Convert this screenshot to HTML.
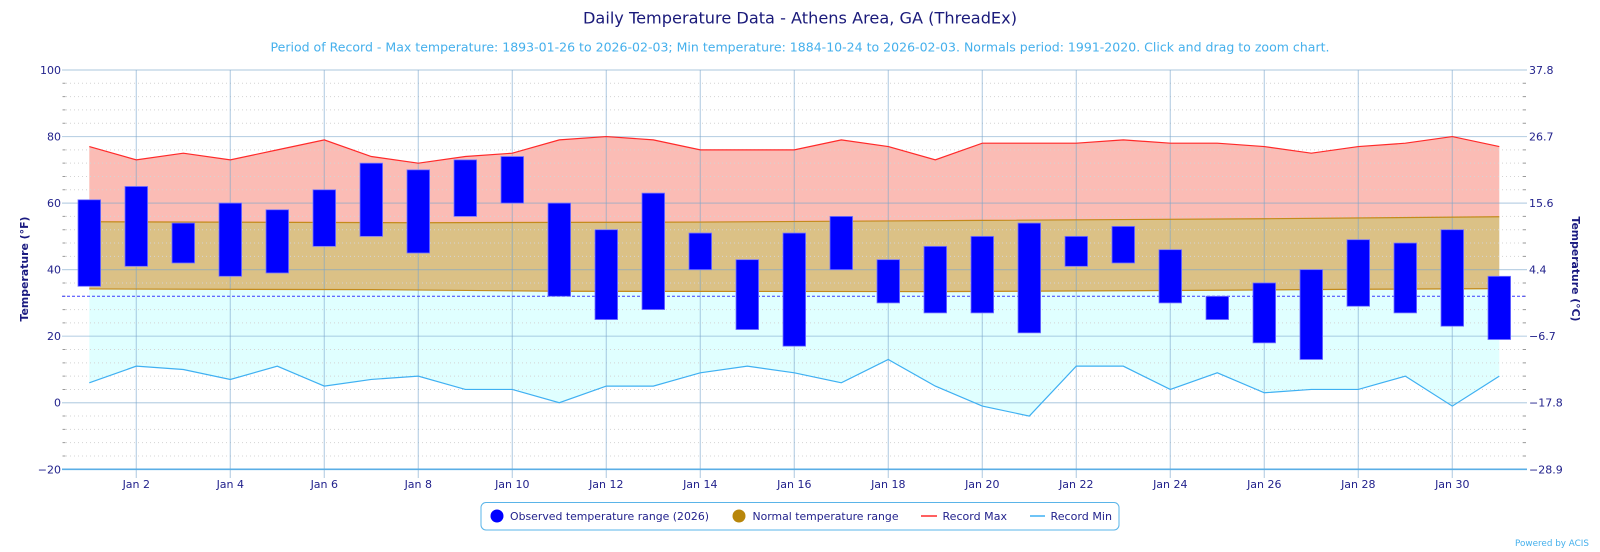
<!DOCTYPE html>
<html><head><meta charset="utf-8"><style>
html,body{margin:0;padding:0;background:#fff;width:1600px;height:552px;overflow:hidden}
svg{display:block}
text{font-family:"DejaVu Sans","Liberation Sans",sans-serif}
</style></head><body>
<svg width="1600" height="552" viewBox="0 0 1600 552" xmlns="http://www.w3.org/2000/svg">
<rect width="1600" height="552" fill="#fff"/>
<text x="800" y="23.3" text-anchor="middle" font-size="16" fill="#1a1a7a" textLength="434" lengthAdjust="spacingAndGlyphs">Daily Temperature Data - Athens Area, GA (ThreadEx)</text>
<text x="800" y="51.5" text-anchor="middle" font-size="12" fill="#45b0ec" textLength="1059" lengthAdjust="spacingAndGlyphs">Period of Record - Max temperature: 1893-01-26 to 2026-02-03; Min temperature: 1884-10-24 to 2026-02-03. Normals period: 1991-2020. Click and drag to zoom chart.</text>

<!-- fills -->
<polygon fill="#fbbcb5" points="89.3,146.54 136.3,159.85 183.3,153.19 230.3,159.85 277.3,149.86 324.3,139.88 371.3,156.52 418.3,163.17 465.3,156.52 512.3,153.19 559.3,139.88 606.3,136.55 653.3,139.88 700.3,149.86 747.3,149.86 794.3,149.86 841.3,139.88 888.3,146.54 935.3,159.85 982.3,143.21 1029.3,143.21 1076.3,143.21 1123.3,139.88 1170.3,143.21 1217.3,143.21 1264.3,146.54 1311.3,153.19 1358.3,146.54 1405.3,143.21 1452.3,136.55 1499.3,146.54 1499.3,216.75 1264.3,218.74 982.3,220.40 700.3,222.07 418.3,222.74 89.3,221.74"/>
<polygon fill="#dbc186" points="89.3,221.74 418.3,222.74 700.3,222.07 982.3,220.40 1264.3,218.74 1499.3,216.75 1499.3,288.62 1358.3,289.28 1217.3,290.28 935.3,291.61 559.3,291.28 371.3,289.62 89.3,288.95"/>
<polygon fill="#e0ffff" points="89.3,288.95 371.3,289.62 559.3,291.28 935.3,291.61 1217.3,290.28 1358.3,289.28 1499.3,288.62 1499.3,376.13 1452.3,406.08 1405.3,376.13 1358.3,389.44 1311.3,389.44 1264.3,392.77 1217.3,372.80 1170.3,389.44 1123.3,366.15 1076.3,366.15 1029.3,416.06 982.3,406.08 935.3,386.11 888.3,359.49 841.3,382.79 794.3,372.80 747.3,366.15 700.3,372.80 653.3,386.11 606.3,386.11 559.3,402.75 512.3,389.44 465.3,389.44 418.3,376.13 371.3,379.46 324.3,386.11 277.3,366.15 230.3,379.46 183.3,369.48 136.3,366.15 89.3,382.79"/>

<!-- minor dotted grid -->
<g stroke="#d4d4d4" stroke-width="1" stroke-dasharray="1,3">
<line x1="66" x2="1522.8" y1="83.31" y2="83.31"/><line x1="66" x2="1522.8" y1="96.62" y2="96.62"/><line x1="66" x2="1522.8" y1="109.93" y2="109.93"/><line x1="66" x2="1522.8" y1="123.24" y2="123.24"/>
<line x1="66" x2="1522.8" y1="149.86" y2="149.86"/><line x1="66" x2="1522.8" y1="163.17" y2="163.17"/><line x1="66" x2="1522.8" y1="176.48" y2="176.48"/><line x1="66" x2="1522.8" y1="189.79" y2="189.79"/>
<line x1="66" x2="1522.8" y1="216.41" y2="216.41"/><line x1="66" x2="1522.8" y1="229.72" y2="229.72"/><line x1="66" x2="1522.8" y1="243.03" y2="243.03"/><line x1="66" x2="1522.8" y1="256.34" y2="256.34"/>
<line x1="66" x2="1522.8" y1="282.96" y2="282.96"/><line x1="66" x2="1522.8" y1="309.58" y2="309.58"/><line x1="66" x2="1522.8" y1="322.89" y2="322.89"/>
<line x1="66" x2="1522.8" y1="349.51" y2="349.51"/><line x1="66" x2="1522.8" y1="362.82" y2="362.82"/><line x1="66" x2="1522.8" y1="376.13" y2="376.13"/><line x1="66" x2="1522.8" y1="389.44" y2="389.44"/>
<line x1="66" x2="1522.8" y1="416.06" y2="416.06"/><line x1="66" x2="1522.8" y1="429.37" y2="429.37"/><line x1="66" x2="1522.8" y1="442.68" y2="442.68"/><line x1="66" x2="1522.8" y1="455.99" y2="455.99"/>
</g>
<!-- minor ticks -->
<g stroke="#9a9a9a" stroke-width="1">
<path d="M62.5 83.31h3M62.5 96.62h3M62.5 109.93h3M62.5 123.24h3M62.5 149.86h3M62.5 163.17h3M62.5 176.48h3M62.5 189.79h3M62.5 216.41h3M62.5 229.72h3M62.5 243.03h3M62.5 256.34h3M62.5 282.96h3M62.5 296.27h3M62.5 309.58h3M62.5 322.89h3M62.5 349.51h3M62.5 362.82h3M62.5 376.13h3M62.5 389.44h3M62.5 416.06h3M62.5 429.37h3M62.5 442.68h3M62.5 455.99h3"/>
<path d="M1523 83.31h3M1523 96.62h3M1523 109.93h3M1523 123.24h3M1523 149.86h3M1523 163.17h3M1523 176.48h3M1523 189.79h3M1523 216.41h3M1523 229.72h3M1523 243.03h3M1523 256.34h3M1523 282.96h3M1523 296.27h3M1523 309.58h3M1523 322.89h3M1523 349.51h3M1523 362.82h3M1523 376.13h3M1523 389.44h3M1523 416.06h3M1523 429.37h3M1523 442.68h3M1523 455.99h3"/>
</g>

<!-- major grid -->
<g stroke="#7aa6cc" stroke-opacity="0.5" stroke-width="1.2">
<line x1="62" x2="1527" y1="70" y2="70"/>
<line x1="62" x2="1527" y1="136.55" y2="136.55"/>
<line x1="62" x2="1527" y1="203.1" y2="203.1"/>
<line x1="62" x2="1527" y1="269.65" y2="269.65"/>
<line x1="62" x2="1527" y1="336.2" y2="336.2"/>
<line x1="62" x2="1527" y1="402.75" y2="402.75"/>
<line x1="136.3" x2="136.3" y1="70" y2="478"/><line x1="230.3" x2="230.3" y1="70" y2="478"/><line x1="324.3" x2="324.3" y1="70" y2="478"/><line x1="418.3" x2="418.3" y1="70" y2="478"/><line x1="512.3" x2="512.3" y1="70" y2="478"/><line x1="606.3" x2="606.3" y1="70" y2="478"/><line x1="700.3" x2="700.3" y1="70" y2="478"/><line x1="794.3" x2="794.3" y1="70" y2="478"/><line x1="888.3" x2="888.3" y1="70" y2="478"/><line x1="982.3" x2="982.3" y1="70" y2="478"/><line x1="1076.3" x2="1076.3" y1="70" y2="478"/><line x1="1170.3" x2="1170.3" y1="70" y2="478"/><line x1="1264.3" x2="1264.3" y1="70" y2="478"/><line x1="1358.3" x2="1358.3" y1="70" y2="478"/><line x1="1452.3" x2="1452.3" y1="70" y2="478"/>
</g>
<line x1="62" x2="1527" y1="469.3" y2="469.3" stroke="#5aaee6" stroke-width="1.6"/>

<!-- normal borders -->
<polyline fill="none" stroke="#c48a1c" stroke-width="1.2" points="89.3,221.74 418.3,222.74 700.3,222.07 982.3,220.40 1264.3,218.74 1499.3,216.75"/>
<polyline fill="none" stroke="#c48a1c" stroke-width="1.2" points="89.3,288.95 371.3,289.62 559.3,291.28 935.3,291.61 1217.3,290.28 1358.3,289.28 1499.3,288.62"/>

<!-- freezing line -->
<line x1="62" x2="1527" y1="296.27" y2="296.27" stroke="#3a3aff" stroke-width="1" stroke-dasharray="3,2"/>

<!-- record lines -->
<polyline fill="none" stroke="#ff2a2a" stroke-width="1.2" points="89.3,146.54 136.3,159.85 183.3,153.19 230.3,159.85 277.3,149.86 324.3,139.88 371.3,156.52 418.3,163.17 465.3,156.52 512.3,153.19 559.3,139.88 606.3,136.55 653.3,139.88 700.3,149.86 747.3,149.86 794.3,149.86 841.3,139.88 888.3,146.54 935.3,159.85 982.3,143.21 1029.3,143.21 1076.3,143.21 1123.3,139.88 1170.3,143.21 1217.3,143.21 1264.3,146.54 1311.3,153.19 1358.3,146.54 1405.3,143.21 1452.3,136.55 1499.3,146.54"/>
<polyline fill="none" stroke="#3fb0f2" stroke-width="1.2" points="89.3,382.79 136.3,366.15 183.3,369.48 230.3,379.46 277.3,366.15 324.3,386.11 371.3,379.46 418.3,376.13 465.3,389.44 512.3,389.44 559.3,402.75 606.3,386.11 653.3,386.11 700.3,372.80 747.3,366.15 794.3,372.80 841.3,382.79 888.3,359.49 935.3,386.11 982.3,406.08 1029.3,416.06 1076.3,366.15 1123.3,366.15 1170.3,389.44 1217.3,372.80 1264.3,392.77 1311.3,389.44 1358.3,389.44 1405.3,376.13 1452.3,406.08 1499.3,376.13"/>

<!-- bars -->
<g fill="#0000ff" stroke="#7676ff" stroke-width="0.8">
<rect x="78" width="22.6" y="199.78" height="86.51"/>
<rect x="125" width="22.6" y="186.46" height="79.86"/>
<rect x="172" width="22.6" y="223.07" height="39.93"/>
<rect x="219" width="22.6" y="203.10" height="73.20"/>
<rect x="266" width="22.6" y="209.76" height="63.22"/>
<rect x="313" width="22.6" y="189.79" height="56.57"/>
<rect x="360" width="22.6" y="163.17" height="73.21"/>
<rect x="407" width="22.6" y="169.83" height="83.18"/>
<rect x="454" width="22.6" y="159.85" height="56.56"/>
<rect x="501" width="22.6" y="156.52" height="46.58"/>
<rect x="548" width="22.6" y="203.10" height="93.17"/>
<rect x="595" width="22.6" y="229.72" height="89.84"/>
<rect x="642" width="22.6" y="193.12" height="116.46"/>
<rect x="689" width="22.6" y="233.05" height="36.60"/>
<rect x="736" width="22.6" y="259.67" height="69.88"/>
<rect x="783" width="22.6" y="233.05" height="113.13"/>
<rect x="830" width="22.6" y="216.41" height="53.24"/>
<rect x="877" width="22.6" y="259.67" height="43.26"/>
<rect x="924" width="22.6" y="246.36" height="66.55"/>
<rect x="971" width="22.6" y="236.38" height="76.53"/>
<rect x="1018" width="22.6" y="223.07" height="109.80"/>
<rect x="1065" width="22.6" y="236.38" height="29.94"/>
<rect x="1112" width="22.6" y="226.39" height="36.61"/>
<rect x="1159" width="22.6" y="249.69" height="53.24"/>
<rect x="1206" width="22.6" y="296.27" height="23.29"/>
<rect x="1253" width="22.6" y="282.96" height="59.90"/>
<rect x="1300" width="22.6" y="269.65" height="89.84"/>
<rect x="1347" width="22.6" y="239.70" height="66.55"/>
<rect x="1394" width="22.6" y="243.03" height="69.88"/>
<rect x="1441" width="22.6" y="229.72" height="96.50"/>
<rect x="1488" width="22.6" y="276.30" height="63.23"/>
</g>

<!-- axis labels -->
<g font-size="11" fill="#22228c" text-anchor="end">
<text x="61" y="74">100</text><text x="61" y="140.5">80</text><text x="61" y="207">60</text><text x="61" y="273.5">40</text><text x="61" y="340">20</text><text x="61" y="406.7">0</text><text x="61" y="473.3">−20</text>
</g>
<g font-size="11" fill="#22228c" text-anchor="start">
<text x="1529" y="74">37.8</text><text x="1529" y="140.5">26.7</text><text x="1529" y="207">15.6</text><text x="1529" y="273.5">4.4</text><text x="1529" y="340">−6.7</text><text x="1529" y="406.7">−17.8</text><text x="1529" y="473.3">−28.9</text>
</g>
<g font-size="11" fill="#22228c" text-anchor="middle">
<text x="136.3" y="488">Jan 2</text><text x="230.3" y="488">Jan 4</text><text x="324.3" y="488">Jan 6</text><text x="418.3" y="488">Jan 8</text><text x="512.3" y="488">Jan 10</text><text x="606.3" y="488">Jan 12</text><text x="700.3" y="488">Jan 14</text><text x="794.3" y="488">Jan 16</text><text x="888.3" y="488">Jan 18</text><text x="982.3" y="488">Jan 20</text><text x="1076.3" y="488">Jan 22</text><text x="1170.3" y="488">Jan 24</text><text x="1264.3" y="488">Jan 26</text><text x="1358.3" y="488">Jan 28</text><text x="1452.3" y="488">Jan 30</text>
</g>
<text transform="translate(28,269) rotate(-90)" text-anchor="middle" font-size="11" font-weight="bold" fill="#1a1a80" textLength="105" lengthAdjust="spacingAndGlyphs">Temperature (°F)</text>
<text transform="translate(1572,269) rotate(90)" text-anchor="middle" font-size="11" font-weight="bold" fill="#1a1a80" textLength="105" lengthAdjust="spacingAndGlyphs">Temperature (°C)</text>

<!-- legend -->
<rect x="481" y="502.5" width="638" height="27.5" rx="5" ry="5" fill="#fff" stroke="#5ab4e8" stroke-width="1"/>
<circle cx="497" cy="516" r="6.5" fill="#0000ff"/>
<text x="510" y="520" font-size="11" fill="#22228c" textLength="199" lengthAdjust="spacingAndGlyphs">Observed temperature range (2026)</text>
<circle cx="739" cy="516" r="6.5" fill="#b8860b"/>
<text x="752.5" y="520" font-size="11" fill="#22228c" textLength="146" lengthAdjust="spacingAndGlyphs">Normal temperature range</text>
<line x1="921" x2="937" y1="516" y2="516" stroke="#ff2a2a" stroke-width="1.5"/>
<text x="942.5" y="520" font-size="11" fill="#22228c" textLength="64.5" lengthAdjust="spacingAndGlyphs">Record Max</text>
<line x1="1030" x2="1045" y1="516" y2="516" stroke="#3fb0f2" stroke-width="1.5"/>
<text x="1050.5" y="520" font-size="11" fill="#22228c" textLength="61.5" lengthAdjust="spacingAndGlyphs">Record Min</text>

<text x="1589" y="546" text-anchor="end" font-size="9" fill="#45b0ec" textLength="74" lengthAdjust="spacingAndGlyphs">Powered by ACIS</text>
</svg>
</body></html>
